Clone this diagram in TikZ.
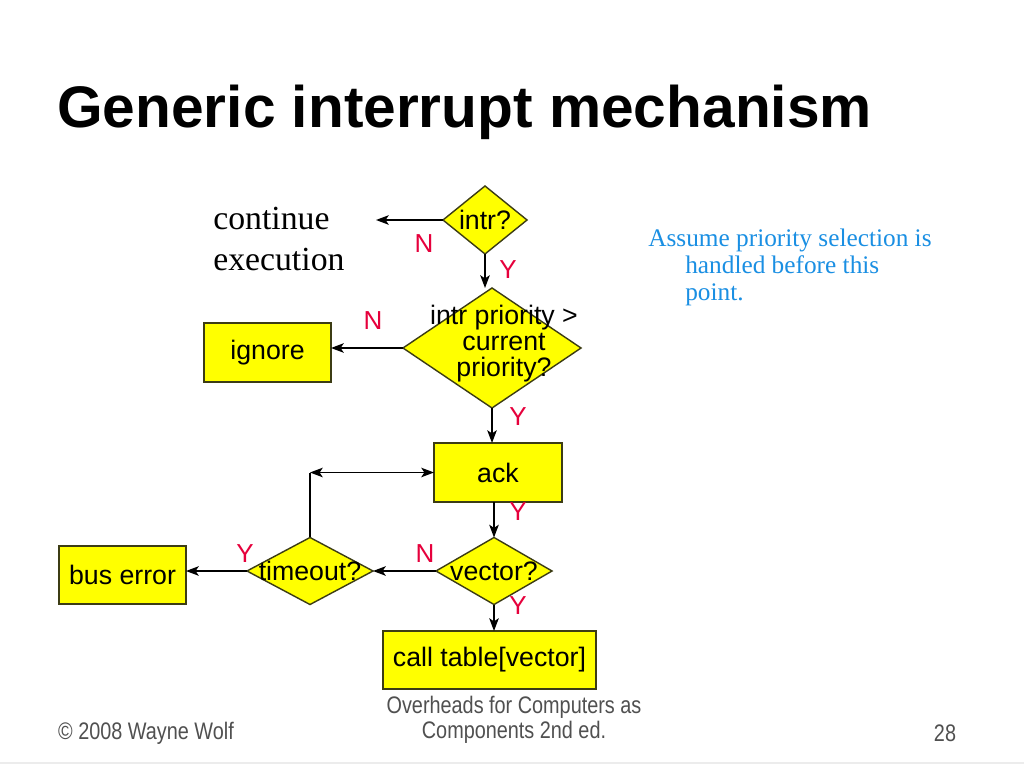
\documentclass[tikz,border=0pt]{standalone}
\usepackage{fontspec}
\setmainfont{Liberation Serif}
\setsansfont{Liberation Sans}
\newfontfamily\narrowsans[FakeStretch=0.83]{Liberation Sans}
\usepackage{xcolor}
\usepackage{tikz}
\usetikzlibrary{arrows.meta, positioning}
\usetikzlibrary{shapes.geometric}
\definecolor{boxyellow}{HTML}{FFFF00}
\definecolor{boxedge}{HTML}{3C3C14}
\definecolor{answerred}{HTML}{E6003C}
\definecolor{noteblue}{HTML}{1A8FE3}
\definecolor{footgray}{HTML}{505050}

\tikzset{
    flowtip/.tip={Stealth[length=0.32cm, width=0.24cm, inset=0.08cm]},
    flowbox/.style={rectangle, draw=boxedge, fill=boxyellow, line width=1pt, inner sep=0pt, outer sep=0pt, font=\sffamily\fontsize{19}{21}\selectfont},
    flowtest/.style={diamond, draw=boxedge, fill=boxyellow, line width=1pt, inner sep=0pt, outer sep=0pt},
    testtext/.style={font=\sffamily\fontsize{19}{18.5}\selectfont, align=center, inner sep=0pt},
    answer/.style={text=answerred, font=\sffamily\fontsize{18.5}{20}\selectfont, inner sep=0pt},
    flowarrow/.style={-flowtip, line width=0.9pt},
    footer/.style={text=footgray, font=\narrowsans\fontsize{17}{17.8}\selectfont, align=center, inner sep=0pt}
}

\begin{document}
\begin{tikzpicture}[x=0.025cm, y=-0.025cm]
    \fill[white] (0,0) rectangle (1024,768);
    \useasboundingbox (0,0) rectangle (1024,768);

    \node[anchor=base west, inner sep=0pt, font=\sffamily\bfseries\fontsize{41.7}{50}\selectfont] (title) at (57,128) {Generic interrupt mechanism};

    % decisions
    \node[flowtest, minimum width=2.1cm, minimum height=1.7cm, label={[testtext]center:intr?}] (intr) at (485,220) {};
    \node[flowtest, minimum width=4.45cm, minimum height=3cm, label={[testtext, xshift=0.3cm, yshift=0.12cm]center:intr priority >\\current\\priority?}] (prio) at (492,348) {};
    \node[flowtest, minimum width=2.9cm, minimum height=1.675cm, label={[testtext]center:vector?}] (vector) at (494,571) {};
    \node[flowtest, minimum width=3.15cm, minimum height=1.675cm, label={[testtext]center:timeout?}] (timeout) at (310,571) {};

    % boxes
    \node[flowbox, minimum width=3.175cm, minimum height=1.475cm] (ignore) at (267.5,352.5) {ignore};
    \node[flowbox, minimum width=3.2cm, minimum height=1.475cm] (ack) at (498,472.5) {ack};
    \node[flowbox, minimum width=3.175cm, minimum height=1.45cm] (buserr) at (122.5,575) {bus error};
    \node[flowbox, minimum width=5.325cm, minimum height=1.45cm] (calltab) at (489.5,660) {call table[vector]};

    \node[anchor=north west, inner sep=0pt, align=left, font=\fontsize{24}{29}\selectfont] (cont) at (213,207) {continue\\execution};
    \coordinate (contend) at (376,220);

    % connectors
    \draw[flowarrow] (intr.west) -- (contend);
    \draw[flowarrow] (intr.south) -- (intr.south |- prio.north);
    \draw[flowarrow] (prio.west) -- (prio.west -| ignore.east);
    \draw[flowarrow] (prio.south) -- (prio.south |- ack.north);
    \draw[flowarrow] (vector.north |- ack.south) -- (vector.north);
    \draw[flowarrow] (vector.west) -- (timeout.east);
    \draw[flowarrow] (timeout.west) -- (timeout.west -| buserr.east);
    \draw[flowarrow] (vector.south) -- (vector.south |- calltab.north);
    \coordinate (loopcorner) at (timeout.north |- ack.west);
    \draw[line width=0.9pt] (timeout.north) -- (loopcorner);
    \draw[line width=0.9pt, flowtip-flowtip] (loopcorner) -- (ack.west);

    % Y / N
    \node[answer] (n1) at (424,244) {N};
    \node[answer] (y1) at (508,270) {Y};
    \node[answer] (n2) at (373,321) {N};
    \node[answer] (y2) at (518,417) {Y};
    \node[answer] (y3) at (518,512) {Y};
    \node[answer] (n3) at (425,554) {N};
    \node[answer] (y4) at (245,554) {Y};
    \node[answer] (y5) at (518,606) {Y};

    \node[anchor=north west, inner sep=0pt, align=left, text=noteblue, font=\fontsize{18}{19.2}\selectfont] (note) at (648,229) {Assume priority selection is\\\hspace*{0.925cm}handled before this\\\hspace*{0.925cm}point.};

    % footer
    \node[footer] (copy) at (146,733) {\textcopyright\ 2008 Wayne Wolf};
    \node[footer] (book) at (514,720) {Overheads for Computers as\\Components 2nd ed.};
    \node[footer] (page) at (945,733) {28};
    \draw[gray!15, line width=1.5pt] (0,763) -- (1024,763);
\end{tikzpicture}
\end{document}
